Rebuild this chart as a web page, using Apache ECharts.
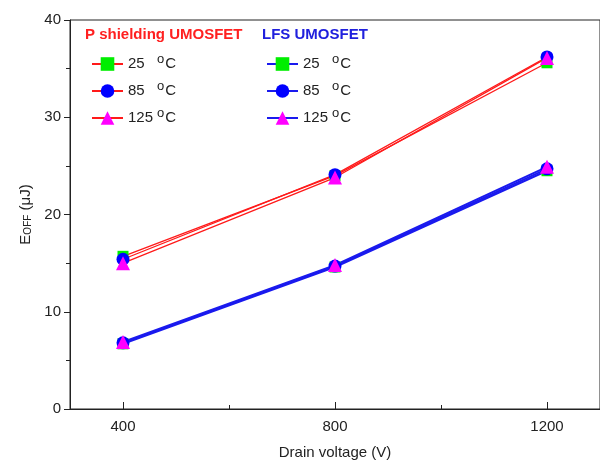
<!DOCTYPE html>
<html>
<head>
<meta charset="utf-8">
<script src="https://cdn.jsdelivr.net/npm/echarts@6/dist/echarts.min.js"></script>
<style>
  html, body { margin: 0; padding: 0; background: #fff; }
  #chart { width: 600px; height: 466px; }
</style>
</head>
<body>
<div id="chart"></div>
<script>
// Turn-off energy E_OFF (µJ) versus drain voltage for two UMOSFET designs
const voltages = [400, 800, 1200];
const temps = ['25', '85', '125'];

// P shielding UMOSFET
const pShield25 = [15.7, 24.0, 35.6];
const pShield85 = [15.4, 24.1, 36.2];
const pShield125 = [15.0, 23.8, 36.1];

// LFS UMOSFET
const lfs25 = [6.7, 14.6, 24.5];
const lfs85 = [6.8, 14.7, 24.7];
const lfs125 = [6.9, 14.8, 24.9];

const yTicks = [0, 10, 20, 30, 40];
const xLabels = [400, 800, 1200];
const xMinorTicks = [600, 1000];

const textColor = '#222';
const font = 'Liberation Sans, Arial, sans-serif';

const markers = [
  { symbol: 'rect', size: 11, color: '#00ee00' },
  { symbol: 'circle', size: 13, color: '#0000ff' },
  { symbol: 'triangle', size: 14, color: '#ff00ff' }
];

function pairs(vals) {
  return voltages.map((v, i) => [v, vals[i]]);
}

function makeSeries(name, vals, lineColor, lineWidth, mk) {
  return {
    name: name,
    type: 'line',
    data: pairs(vals),
    symbol: mk.symbol,
    symbolSize: mk.size,
    itemStyle: { color: mk.color, borderWidth: 0 },
    lineStyle: { color: lineColor, width: lineWidth },
    emphasis: { disabled: true },
    animation: false,
    z: 2
  };
}

const redLine = '#ff1a1a';
const blueLine = '#1a1aee';

const series = [
  makeSeries('P 25', pShield25, redLine, 1.3, markers[0]),
  makeSeries('P 85', pShield85, redLine, 1.3, markers[1]),
  makeSeries('P 125', pShield125, redLine, 1.3, markers[2]),
  makeSeries('L 25', lfs25, blueLine, 2, markers[0]),
  makeSeries('L 85', lfs85, blueLine, 2, markers[1]),
  makeSeries('L 125', lfs125, blueLine, 2, markers[2])
];

const legendRich = {
  n: { fontSize: 15, color: textColor, fontFamily: font, width: 29, lineHeight: 16 },
  o: { fontSize: 13, color: textColor, fontFamily: font, padding: [0, 1, 9, 0], lineHeight: 16 },
  c: { fontSize: 15, color: textColor, fontFamily: font, lineHeight: 16 }
};

function legendFormatter(name) {
  const t = name.split(' ')[1];
  return '{n|' + t + '}{o|o}{c|C}';
}

function makeLegend(left, names) {
  return {
    left: left,
    top: 48,
    orient: 'vertical',
    itemWidth: 31,
    itemHeight: 17,
    itemGap: 5,
    selectedMode: false,
    data: names,
    formatter: legendFormatter,
    textStyle: { rich: legendRich }
  };
}

const chart = echarts.init(document.getElementById('chart'), null, { renderer: 'canvas' });

chart.setOption({
  backgroundColor: '#fff',
  animation: false,
  grid: {
    left: 70, top: 20, width: 530, bottom: 57,
    show: true, borderColor: '#222', borderWidth: 1, backgroundColor: 'transparent'
  },
  legend: [
    makeLegend(86, ['P 25', 'P 85', 'P 125']),
    makeLegend(261, ['L 25', 'L 85', 'L 125'])
  ],
  graphic: [
    {
      type: 'text', left: 85, top: 27,
      style: { text: 'P shielding UMOSFET', fill: '#ff2020', font: 'bold 15px ' + font }
    },
    {
      type: 'text', left: 262, top: 27,
      style: { text: 'LFS UMOSFET', fill: '#2020dd', font: 'bold 15px ' + font }
    }
  ],
  xAxis: [
    {
      type: 'value', min: 300, max: 1300,
      name: 'Drain voltage (V)', nameLocation: 'middle', nameGap: 36,
      nameTextStyle: { fontSize: 15, color: textColor, fontFamily: font },
      axisLine: { show: true, lineStyle: { color: '#222', width: 1 } },
      axisTick: { show: true, inside: true, length: 7, customValues: xLabels, lineStyle: { color: '#222' } },
      axisLabel: {
        customValues: xLabels, fontSize: 15, color: textColor, fontFamily: font, margin: 10,
        formatter: v => String(v)
      },
      splitLine: { show: false }
    },
    {
      type: 'value', min: 300, max: 1300, position: 'bottom',
      axisLine: { show: false },
      axisTick: { show: true, inside: true, length: 4, customValues: xMinorTicks, lineStyle: { color: '#222' } },
      axisLabel: { show: false },
      splitLine: { show: false }
    }
  ],
  yAxis: {
    type: 'value', min: 0, max: 40, interval: 10,
    name: 'E{sub|OFF} (μJ)', nameLocation: 'middle', nameGap: 34, nameRotate: 90,
    nameTextStyle: {
      fontSize: 15, color: textColor, fontFamily: font,
      rich: { sub: { fontSize: 10, color: textColor, fontFamily: font, padding: [6, 0, 0, 0] } }
    },
    axisLine: { show: true, lineStyle: { color: '#222', width: 1 } },
    axisTick: { show: true, inside: false, length: 6, lineStyle: { color: '#222' } },
    minorTick: { show: true, splitNumber: 2, length: 4, lineStyle: { color: '#222' } },
    axisLabel: { fontSize: 15, color: textColor, fontFamily: font, margin: 9 },
    splitLine: { show: false }
  },
  series: series
});
</script>
</body>
</html>
